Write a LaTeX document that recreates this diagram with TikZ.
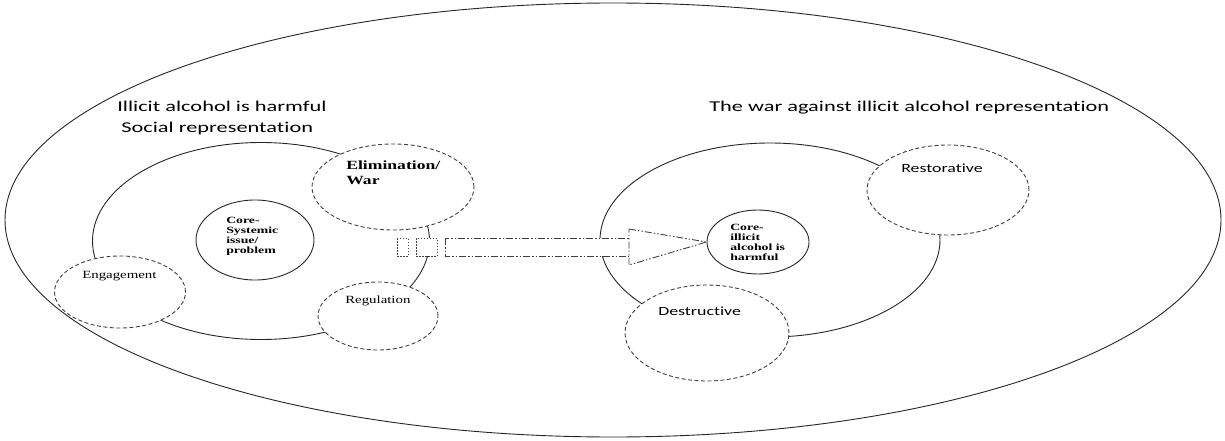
\documentclass[tikz,border=0pt]{standalone}
\usepackage{fontspec}
\setmainfont{Liberation Serif}
\newfontfamily\calib[Ligatures={NoCommon,NoDiscretionary,NoRare}]{Carlito}
\usetikzlibrary{shapes.geometric}
\tikzset{
  solidring/.style={draw=black!85, line width=0.9pt, ellipse, inner sep=0pt},
  dashring/.style={draw=black!75, line width=0.9pt, ellipse, inner sep=0pt, fill=white, dash pattern=on 4pt off 2.5pt},
  coretxt/.style={anchor=base west, inner sep=0pt, xscale=1.45, align=left, font=\fontsize{9.5}{10}\selectfont\bfseries},
  titletxt/.style={anchor=base west, inner sep=0pt, xscale=1.49, font=\calib\fontsize{15}{18}\selectfont},
  smalltxt/.style={anchor=base west, inner sep=0pt, xscale=1.35, font=\fontsize{11}{13}\selectfont},
  sanstxt/.style={anchor=base west, inner sep=0pt, xscale=1.43, font=\calib\fontsize{12.5}{15}\selectfont},
  elimtxt/.style={anchor=base west, inner sep=0pt, xscale=1.41, font=\fontsize{12.5}{14}\selectfont\bfseries},
  arrowline/.style={draw=black!75, line width=0.9pt, fill=white, dash pattern=on 7pt off 2pt on 1.5pt off 2pt on 1.5pt off 2pt},
  dotbox/.style={draw=black!75, line width=0.9pt, fill=white, dash pattern=on 1.5pt off 1.5pt}
}
\begin{document}
\begin{tikzpicture}[x=1pt,y=-1pt]
\useasboundingbox (0,0) rectangle (1225,441);
% outer ellipse
\node[solidring, minimum width=1216pt, minimum height=434pt] (outer) at (613,220) {};
% left group
\node[solidring, minimum width=337pt, minimum height=197pt] (leftbig) at (261,241) {};
\node[solidring, minimum width=118pt, minimum height=80pt] (corel) at (255,240) {};
\node[dashring, minimum width=162pt, minimum height=86pt] (elim) at (393,187) {};
\node[dashring, minimum width=131pt, minimum height=72pt] (engage) at (120,292) {};
\node[dashring, minimum width=120pt, minimum height=68pt] (regul) at (378,316) {};
% right group
\node[solidring, minimum width=340pt, minimum height=194pt] (rightbig) at (770,240) {};
\node[solidring, minimum width=102pt, minimum height=64pt] (corer) at (758,242) {};
\node[dashring, minimum width=162pt, minimum height=90pt] (restor) at (948,190) {};
\node[dashring, minimum width=164pt, minimum height=96pt] (destr) at (707,333) {};
% arrow
\draw[dotbox] (397,238) rectangle (408,256);
\draw[dotbox] (416,238) rectangle (437,256);
\draw[arrowline] (445,238) rectangle (629,256);
\coordinate (tip) at (corer.west);
\draw[arrowline] (629,229) -- (tip) -- (629,265) -- cycle;
% titles
\node[titletxt] (t1) at (117,111) {Illicit alcohol is harmful};
\node[titletxt] (t2) at (121,132) {Social representation};
\node[titletxt] (t3) at (709,111) {The war against illicit alcohol representation};
% labels
\node[coretxt] (lc1) at (226,223) {Core-};
\node[coretxt] (lc2) at (226,233) {Systemic};
\node[coretxt] (lc3) at (226,243) {issue/};
\node[coretxt] (lc4) at (226,253) {problem};
\node[coretxt] (rc1) at (730,230) {Core-};
\node[coretxt] (rc2) at (730,240) {illicit};
\node[coretxt] (rc3) at (730,250) {alcohol is};
\node[coretxt] (rc4) at (730,260) {harmful};
\node[elimtxt] (el1) at (346,169) {Elimination/};
\node[elimtxt] (el2) at (346,184) {War};
\node[smalltxt] (eng) at (82,278) {Engagement};
\node[smalltxt] (reg) at (345,303) {Regulation};
\node[sanstxt] (res) at (901,172) {Restorative};
\node[sanstxt] (des) at (658,315) {Destructive};
\end{tikzpicture}
\end{document}
